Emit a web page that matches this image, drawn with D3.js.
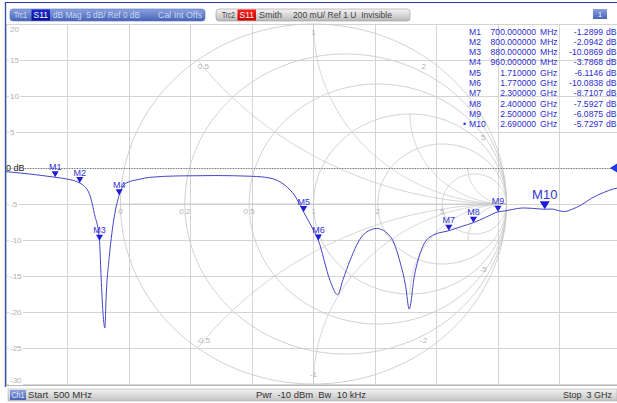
<!DOCTYPE html>
<html><head><meta charset="utf-8">
<script src="https://cdn.jsdelivr.net/npm/d3@7"></script>
<style>
html,body{margin:0;padding:0;background:#fff;overflow:hidden;}
svg{display:block;font-family:"Liberation Sans",Arial,sans-serif;}
</style></head><body><svg id="c" width="617" height="403"></svg>
<script>
// ---------- data ----------
const freqMHz = [500,600,700,750,800,838,859,880,886,893,902,907,920,940,960,988,1042,1083,1200,1350,1500,1573,1634,1675,1710,1740,1770,1817,1848,1870,1899,1952,2007,2062,2103,2125,2139,2160,2175,2200,2238,2300,2350,2400,2450,2500,2530,2560,2600,2640,2690,2720,2750,2770,2800,2840,2880,2930,2970,3000];
const s11dB   = [-0.5,-0.85,-1.29,-1.55,-2.09,-3.5,-6.3,-10.09,-14.6,-19.5,-22.2,-17.9,-12.3,-6.8,-3.79,-2.1,-1.57,-1.3,-1.1,-1.05,-1.15,-1.4,-2.4,-3.9,-6.11,-8.0,-10.08,-15.6,-17.6,-15.5,-12.8,-9.3,-8.4,-9.5,-13.2,-16.5,-19.6,-15.0,-12.8,-10.5,-9.3,-8.71,-8.15,-7.59,-6.85,-6.09,-5.95,-5.75,-5.55,-5.6,-5.73,-5.7,-5.95,-6.05,-5.75,-5.1,-4.2,-3.4,-2.9,-2.7];

const markerNames = ["M1","M2","M3","M4","M5","M6","M7","M8","M9","M10"];
const markerFreqMHz = [700,800,880,960,1710,1770,2300,2400,2500,2690];
const markerDB = [-1.2899,-2.0942,-10.0869,-3.7868,-6.1146,-10.0838,-8.7107,-7.5927,-6.0875,-5.7297];
const markerFreqNum = ["700.000000","800.000000","880.000000","960.000000","1.710000","1.770000","2.300000","2.400000","2.500000","2.690000"];
const markerFreqUnit = ["MHz","MHz","MHz","MHz","GHz","GHz","GHz","GHz","GHz","GHz"];
const markerValText = ["-1.2899","-2.0942","-10.0869","-3.7868","-6.1146","-10.0838","-8.7107","-7.5927","-6.0875","-5.7297"];

const dbTicks = [20,15,10,5,0,-5,-10,-15,-20,-25,-30];
const freqGrid = [500,750,1000,1250,1500,1750,2000,2250,2500,2750,3000];

const smithR = [0,0.2,0.5,1,2,5];
const smithRLabels = ["0","0.2","0.5","1","2","5"];
const smithX = [0.5,1,2,5,-0.5,-1,-2,-5];
const smithXLabels = ["0.5","1","2","5","-0.5","-1","-2","-5"];

// ---------- setup ----------
const svg = d3.select("#c");
const W = 617, H = 403;
const x = d3.scaleLinear().domain([500,3000]).range([6,621]);
const y = d3.scaleLinear().domain([20,-30]).range([24,384]);
const cx = 313.5, cy = 204, rx = 193, ry = 180;
const gx = d3.scaleLinear().domain([-1,1]).range([cx-rx, cx+rx]);
const gy = d3.scaleLinear().domain([-1,1]).range([cy+ry, cy-ry]);

const defs = svg.append("defs");
defs.append("clipPath").attr("id","plot").append("rect").attr("x",6).attr("y",22).attr("width",611).attr("height",363);
function grad(id, c1, c2){
  const g = defs.append("linearGradient").attr("id",id).attr("x1",0).attr("y1",0).attr("x2",0).attr("y2",1);
  g.append("stop").attr("offset","0%").attr("stop-color",c1);
  g.append("stop").attr("offset","100%").attr("stop-color",c2);
}
grad("gBlue","#8aa2de","#4863b6");
grad("gGray","#f4f4f4","#b9b9b9");
grad("gBar","#f0f0f0","#c4c4c4");
grad("gDark","#1a2ad0","#0a0f90");
grad("gRed","#ff2020","#c80000");

const plot = svg.append("g").attr("clip-path","url(#plot)");

// dB grid
plot.append("g").selectAll("line").data(freqGrid).join("line")
  .attr("x1",d=>x(d)).attr("x2",d=>x(d)).attr("y1",y(20)).attr("y2",y(-30))
  .attr("stroke","#d4d4d4").attr("stroke-width",1).attr("shape-rendering","crispEdges");
plot.append("g").selectAll("line").data(dbTicks).join("line")
  .attr("x1",6).attr("x2",W).attr("y1",d=>y(d)).attr("y2",d=>y(d))
  .attr("stroke","#d4d4d4").attr("stroke-width",1).attr("shape-rendering","crispEdges");

// Smith chart grid
const smithG = plot.append("g").attr("fill","none").attr("stroke","#c9c9c9").attr("stroke-width",0.9);
const lineG = d3.line().x(p=>gx(p[0])).y(p=>gy(p[1]));
smithR.forEach(r=>{
  const c = r/(1+r), rad = 1/(1+r);
  const pts = d3.range(0,361,1).map(a=>[c+rad*Math.cos(a*Math.PI/180), rad*Math.sin(a*Math.PI/180)]);
  smithG.append("path").attr("d", lineG(pts));
});
smithG.append("path").attr("d", lineG([[-1,0],[1,0]]));
smithX.forEach(xv=>{
  const R = 1/Math.abs(xv), s = Math.sign(xv);
  const pts = d3.range(0,901,1).map(i=>{
    const t = Math.PI + i/900*Math.PI/2;
    return [1 + R*Math.cos(t), s*(R + R*Math.sin(t))];
  }).filter(p=>p[0]*p[0]+p[1]*p[1] <= 1.0005);
  smithG.append("path").attr("d", lineG(pts));
});
// Smith labels
const slab = plot.append("g").attr("fill","#b2b2b2").attr("font-size","8px").attr("text-anchor","middle");
smithR.forEach((r,i)=>{
  slab.append("text").attr("x", gx((r-1)/(r+1))).attr("y", cy+10).text(smithRLabels[i]);
});
smithX.forEach((xv,i)=>{
  const gr = (xv*xv-1)/(xv*xv+1), gi = 2*xv/(xv*xv+1);
  const px = gx(gr), py = gy(gi);
  const dx = cx-px, dy = cy-py, L = Math.hypot(dx,dy);
  slab.append("text").attr("x", px+dx/L*9).attr("y", py+dy/L*9+2).text(smithXLabels[i]);
});

// y tick labels (with knockout)
const ylab = svg.append("g").attr("font-size","8px");
dbTicks.forEach(v=>{
  if (v===0) return;
  const yy = Math.max(29, Math.min(380, y(v)));
  const t = ylab.append("text").attr("x",10).attr("y",yy+3).attr("fill","#b0b0b0").text(String(v));
  const bb = t.node().getBBox();
  ylab.insert("rect","text").attr("x",bb.x-1).attr("y",bb.y).attr("width",bb.width+2).attr("height",bb.height).attr("fill","#fff");
});

// reference 0 dB line
svg.append("line").attr("x1",25).attr("x2",611).attr("y1",y(0)+0.5).attr("y2",y(0)+0.5)
  .attr("stroke","#555").attr("stroke-width",0.8).attr("stroke-dasharray","1,1.6");
svg.append("text").attr("x",6).attr("y",y(0)+3).attr("font-size","9px").attr("fill","#222").text("0 dB");
svg.append("path").attr("d",`M${610},${y(0)} L617,${y(0)-4.5} L617,${y(0)+4.5} Z`).attr("fill","#1f3ce0");

// trace
const trace = d3.line().x((d,i)=>x(freqMHz[i])).y(d=>y(d)).curve(d3.curveMonotoneX);
plot.append("path").attr("d", trace(s11dB)).attr("fill","none").attr("stroke","#4444c8").attr("stroke-width",1);

// markers
const mk = svg.append("g");
markerNames.forEach((n,i)=>{
  const tx = x(markerFreqMHz[i]), ty = y(markerDB[i]);
  const big = (n==="M10");
  const hw = big?5:3.5, h = big?8:6;
  mk.append("path").attr("d",`M${tx},${ty} L${tx-hw},${ty-h} L${tx+hw},${ty-h} Z`).attr("fill","#1c1cdc");
  mk.append("text").attr("x",tx).attr("y",ty-h-(big?2:1.5)).attr("text-anchor","middle")
    .attr("font-size", big?"13px":"9px").attr("fill","#3333d6").text(n);
});

// marker table
const tb = svg.append("g").attr("font-size","8.6px").attr("fill","#2c2cd2");
markerNames.forEach((n,i)=>{
  const yy = 34.5 + i*10.3;
  if (n==="M10") tb.append("text").attr("x",463).attr("y",yy).text("•");
  tb.append("text").attr("x",469).attr("y",yy).text(n);
  tb.append("text").attr("x",536).attr("y",yy).attr("text-anchor","end").text(markerFreqNum[i]);
  tb.append("text").attr("x",540).attr("y",yy).text(markerFreqUnit[i]);
  tb.append("text").attr("x",603).attr("y",yy).attr("text-anchor","end").text(markerValText[i]);
  tb.append("text").attr("x",606).attr("y",yy).text("dB");
});

// frame
svg.append("line").attr("x1",5).attr("x2",W).attr("y1",2.5).attr("y2",2.5).attr("stroke","#2a3f9c").attr("stroke-width",1.2);
svg.append("line").attr("x1",5.5).attr("x2",5.5).attr("y1",2).attr("y2",387).attr("stroke","#3b55b0").attr("stroke-width",1.4);
svg.append("line").attr("x1",6).attr("x2",W).attr("y1",385.5).attr("y2",385.5).attr("stroke","#b8b8b8");

// header
const hd = svg.append("g").attr("font-size","9px");
function ht(g, tx, ty, str, fill, len){
  const t = g.append("text").attr("x",tx).attr("y",ty).attr("fill",fill).attr("xml:space","preserve").text(str);
  if (len) t.attr("textLength",len).attr("lengthAdjust","spacingAndGlyphs");
  return t;
}
hd.append("rect").attr("x",10).attr("y",9).attr("width",195).attr("height",12).attr("rx",3).attr("fill","url(#gBlue)").attr("stroke","#5670c0").attr("stroke-width",0.6);
hd.append("rect").attr("x",31.5).attr("y",9.5).attr("width",18.5).attr("height",11).attr("fill","url(#gDark)");
ht(hd,14,18.3,"Trc1","#d5e0f7",13);
ht(hd,33.5,18.3,"S11","#fff",14.5);
ht(hd,53,18.3,"dB Mag  5 dB/ Ref 0 dB","#c9d6f2",87);
ht(hd,158,18.3,"Cal Int Offs","#c9d6f2",44);

hd.append("rect").attr("x",216).attr("y",9).attr("width",194).attr("height",12).attr("rx",3).attr("fill","url(#gGray)").attr("stroke","#9a9a9a").attr("stroke-width",0.6);
hd.append("rect").attr("x",237.5).attr("y",9.5).attr("width",18.5).attr("height",11).attr("fill","url(#gRed)");
ht(hd,222,18.3,"Trc2","#444",13);
ht(hd,239.5,18.3,"S11","#fff",14.5);
ht(hd,259,18.3,"Smith","#444",23);
ht(hd,293,18.3,"200 mU/ Ref 1 U  Invisible","#444",99);

hd.append("rect").attr("x",593).attr("y",9).attr("width",14).attr("height",10).attr("fill","url(#gBlue)");
hd.append("text").attr("x",600).attr("y",17).attr("text-anchor","middle").attr("fill","#e8eeff").attr("font-size","8px").text("1");

// bottom bar
const bt = svg.append("g").attr("font-size","9px");
bt.append("rect").attr("x",8).attr("y",389).attr("width",609).attr("height",12).attr("fill","url(#gBar)").attr("stroke","#a8a8a8").attr("stroke-width",0.5);
bt.append("rect").attr("x",10).attr("y",390).attr("width",16).attr("height",10).attr("fill","url(#gBlue)");
ht(bt,11.5,398.3,"Ch1","#e4ebfb",13);
ht(bt,28,398.3,"Start  500 MHz","#333",64);
ht(bt,256,398.3,"Pwr  -10 dBm  Bw  10 kHz","#333",110);
bt.append("text").attr("x",612).attr("y",398.3).attr("fill","#333").attr("text-anchor","end").attr("xml:space","preserve").text("Stop  3 GHz");
</script></body></html>
